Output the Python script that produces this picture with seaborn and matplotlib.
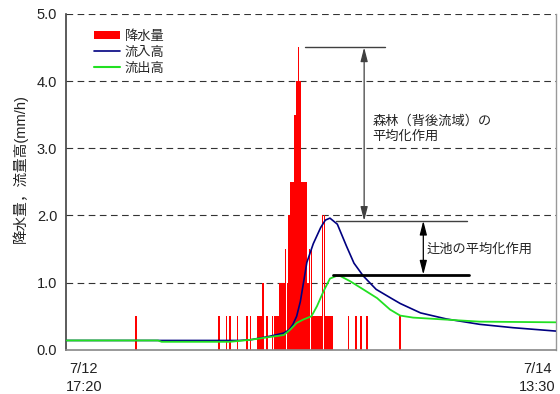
import matplotlib
matplotlib.use("Agg")
import matplotlib.pyplot as plt
from matplotlib.patches import Patch
from matplotlib.lines import Line2D
import pandas as pd
import seaborn as sns

# Time axis: minutes after 7/12 17:20, ending at 7/14 13:30
t_end = 2650
x_tick_pos = [0, t_end]
x_tick_labels = ["7/12\n17:20", "7/14\n13:30"]
y_ticks = [0.0, 1.0, 2.0, 3.0, 4.0, 5.0]

# 10-minute rainfall intensity (mm/h)
rain_min = [380, 830, 870, 890, 930, 980, 1000,
            1040, 1050, 1060, 1070, 1090, 1120, 1130, 1140, 1150,
            1160, 1170, 1180, 1190, 1200, 1210, 1220, 1230, 1240, 1250,
            1260, 1270, 1280, 1290, 1300, 1310, 1320, 1330,
            1340, 1350, 1360, 1370, 1380, 1390, 1400,
            1410, 1420, 1430, 1440,
            1530, 1570, 1600, 1630, 1810]
rain_mmh = [0.5, 0.5, 0.5, 0.5, 0.5, 0.5, 0.5,
            0.5, 0.5, 0.5, 1.0, 0.5, 0.5, 0.5, 0.5, 0.5,
            1.0, 1.0, 1.0, 1.5, 1.0, 2.0, 2.5, 2.5, 3.5, 4.0,
            4.5, 4.0, 2.5, 2.5, 2.5, 1.0, 1.5, 1.5,
            0.5, 0.5, 0.5, 0.5, 0.5, 2.0, 2.0,
            0.5, 0.5, 0.5, 0.5,
            0.5, 0.5, 0.5, 0.5, 0.5]

# Inflow depth (mm/h)
inflow_min = [0, 510, 940, 1000, 1100, 1180, 1210, 1230, 1250, 1270, 1290,
              1305, 1340, 1380, 1405, 1430, 1470, 1520, 1560, 1610, 1680,
              1760, 1810, 1920, 2060, 2240, 2420, 2650]
inflow_val = [0.14, 0.14, 0.14, 0.15, 0.20, 0.25, 0.30, 0.38, 0.50, 0.72, 1.05,
              1.30, 1.58, 1.82, 1.93, 1.96, 1.87, 1.54, 1.29, 1.10, 0.90,
              0.77, 0.69, 0.55, 0.46, 0.38, 0.33, 0.28]

# Outflow depth (mm/h)
outflow_min = [0, 500, 520, 890, 1000, 1100, 1180, 1215, 1250, 1285, 1330,
               1360, 1395, 1430, 1465, 1485, 1540, 1610, 1685, 1755, 1810,
               1880, 2060, 2240, 2650]
outflow_val = [0.14, 0.14, 0.12, 0.12, 0.15, 0.19, 0.22, 0.30, 0.40, 0.45, 0.50,
               0.65, 0.87, 1.06, 1.10, 1.10, 1.02, 0.90, 0.77, 0.60, 0.51,
               0.48, 0.45, 0.42, 0.41]

# Levels marked by the bracket lines
rain_peak = 4.5
inflow_peak = 1.92
outflow_peak = 1.12

sns.set_theme(style="white")
plt.rcParams["font.family"] = ["Liberation Sans", "Noto Sans CJK JP"]

rain = pd.DataFrame({"t": rain_min, "v": rain_mmh})
inflow = pd.DataFrame({"t": inflow_min, "v": inflow_val})
outflow = pd.DataFrame({"t": outflow_min, "v": outflow_val})

fig = plt.figure(figsize=(5.6, 3.94), dpi=100)
ax = fig.add_axes([0.117, 0.112, 0.875, 0.853])

red = "#ff0000"
navy = "#000080"
green = "#22e022"

for lvl in y_ticks[1:]:
    ax.axhline(lvl, color="#333333", lw=0.8, ls=(0, (6, 4)), zorder=0.5)

sns.barplot(data=rain, x="t", y="v", native_scale=True, width=0.95,
            color=red, saturation=1, linewidth=0, errorbar=None, ax=ax,
            zorder=2)
sns.lineplot(data=inflow, x="t", y="v", color=navy, lw=1.2, ax=ax, zorder=3)
sns.lineplot(data=outflow, x="t", y="v", color=green, lw=1.3, ax=ax, zorder=4)

ax.set_xlim(0, t_end)
ax.set_ylim(0, 5.0)

# Bracket lines and arrows
ax.plot([1295, 1730], [rain_peak, rain_peak], color="#404040", lw=1.0, zorder=5)
ax.plot([1465, 2170], [inflow_peak, inflow_peak], color="#404040", lw=1.0, zorder=5)
ax.plot([1445, 2180], [outflow_peak, outflow_peak], color="black", lw=2.0, zorder=5)
arrow_kw = dict(arrowstyle="<|-|>,head_width=0.18,head_length=0.7",
                lw=0.9, shrinkA=0, shrinkB=0, mutation_scale=12)
ax.annotate("", xy=(1615, inflow_peak), xytext=(1615, rain_peak),
            arrowprops=dict(color="#404040", **arrow_kw), zorder=5)
ax.annotate("", xy=(1935, outflow_peak), xytext=(1935, inflow_peak),
            arrowprops=dict(color="black", **arrow_kw), zorder=5)

ax.text(1660, 3.28, "森林（背後流域）の\n平均化作用", ha="left", va="center",
        fontsize=9.5, linespacing=1.3, color="#222222")
ax.text(1950, 1.49, "辻池の平均化作用", ha="left", va="center",
        fontsize=9.5, color="#222222")

# Axes styling
ax.spines["top"].set_visible(False)
ax.spines["left"].set_color("#404040")
ax.spines["left"].set_linewidth(1.2)
ax.spines["bottom"].set_color("#888888")
ax.spines["bottom"].set_linewidth(1.2)
ax.spines["right"].set_color("#999999")
ax.spines["right"].set_linewidth(1.0)

ax.set_yticks(y_ticks)
ax.set_yticklabels([f"{v:.1f}" for v in y_ticks])
ax.set_xticks(x_tick_pos)
ax.set_xticklabels(x_tick_labels)
ax.tick_params(axis="both", length=0, labelsize=10.5, colors="#222222")
ax.tick_params(axis="y", pad=6)
ax.tick_params(axis="x", pad=9)
xl = ax.get_xticklabels()
xl[0].set_ha("left")
xl[1].set_ha("right")
for lab in xl:
    lab.set_multialignment("center")
    lab.set_linespacing(1.3)

ax.set_xlabel("")
ax.set_ylabel("降水量，流量高(mm/h)", fontsize=10.5, color="#222222")
ax.yaxis.set_label_coords(-0.076, 0.54)

handles = [Patch(facecolor=red, edgecolor="none"),
           Line2D([], [], color=navy, lw=1.2),
           Line2D([], [], color=green, lw=1.5)]
ax.legend(handles, ["降水量", "流入高", "流出高"], loc="upper left",
          bbox_to_anchor=(0.058, 0.952), frameon=False, fontsize=9.5,
          handlelength=2.0, handleheight=0.6, handletextpad=0.35,
          labelspacing=0.3, borderpad=0, borderaxespad=0)

fig.savefig("out.png", dpi=100)
